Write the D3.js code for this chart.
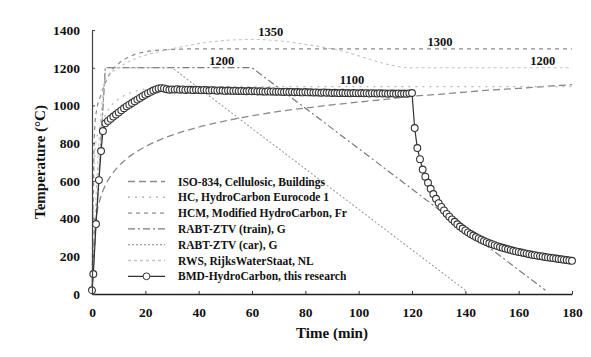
<!DOCTYPE html>
<html>
<head>
<meta charset="utf-8">
<script src="https://cdn.jsdelivr.net/npm/d3@7"></script>
<style>
  body { margin: 0; background: #fff; }
  svg text { font-family: "Liberation Serif", "Times New Roman", serif; font-weight: bold; fill: #111; }
</style>
</head>
<body>
<div id="chart"></div>
<script>
// fire curves (time in min, temperature in °C)
const isoTime = [0, 1, 2, 3, 5, 7, 10, 15, 20, 25, 30, 40, 50, 60, 70, 80, 90, 100, 110, 120, 130, 140, 150, 160, 170, 180];
const isoTemp = [20, 349, 445, 502, 576, 626, 678, 739, 781, 815, 842, 885, 918, 945, 968, 986, 1003, 1018, 1032, 1049, 1059, 1071, 1082, 1090, 1101, 1110];

const hcTime = [0, 1, 2, 3, 5, 7, 10, 15, 20, 25, 30, 40, 180];
const hcTemp = [20, 743, 843, 882, 948, 995, 1034, 1070, 1087, 1094, 1098, 1100, 1100];

const hcmTime = [0, 1, 2, 3, 5, 7, 10, 15, 20, 30, 40, 180];
const hcmTemp = [20, 877, 996, 1042, 1120, 1176, 1222, 1265, 1285, 1297, 1300, 1300];

const trainTime = [0, 5, 60, 170];
const trainTemp = [20, 1200, 1200, 20];

const carTime = [0, 5, 30, 140];
const carTemp = [20, 1200, 1200, 20];

const rwsTime = [0, 3, 5, 10, 30, 60, 90, 120, 180];
const rwsTemp = [20, 890, 1140, 1200, 1300, 1350, 1300, 1200, 1200];

const bmdTime = [0, 0.5, 1.5, 2.6, 3.4, 4.1, 5, 6, 7, 8, 9, 10, 11, 12, 13, 14, 15, 16, 17, 18, 19, 20,
  21, 22, 23, 24, 25, 26, 27, 28, 29, 30, 31, 32, 33, 34, 35, 36, 37, 38, 39, 40,
  41, 42, 43, 44, 45, 46, 47, 48, 49, 50, 51, 52, 53, 54, 55, 56, 57, 58, 59, 60,
  61, 62, 63, 64, 65, 66, 67, 68, 69, 70, 71, 72, 73, 74, 75, 76, 77, 78, 79, 80,
  81, 82, 83, 84, 85, 86, 87, 88, 89, 90, 91, 92, 93, 94, 95, 96, 97, 98, 99, 100,
  101, 102, 103, 104, 105, 106, 107, 108, 109, 110, 111, 112, 113, 114, 115, 116, 117, 118, 119, 120,
  121, 122, 123, 124, 125, 126, 127, 128, 129, 130, 131, 132, 133, 134, 135, 136, 137, 138, 139, 140,
  141, 142, 143, 144, 145, 146, 147, 148, 149, 150, 151, 152, 153, 154, 155, 156, 157, 158, 159, 160,
  161, 162, 163, 164, 165, 166, 167, 168, 169, 170, 171, 172, 173, 174, 175, 176, 177, 178, 179, 180];
const bmdTemp = [20, 106, 371, 604, 758, 864, 905, 918, 930, 941, 952, 963, 974, 985, 995, 1004, 1013, 1022, 1031, 1040, 1049, 1057,
  1065, 1072, 1079, 1085, 1090, 1092, 1090, 1086, 1083, 1085, 1084, 1086, 1083, 1085, 1082, 1084, 1083, 1081, 1083, 1082,
  1080, 1082, 1081, 1079, 1081, 1080, 1078, 1080, 1079, 1077, 1079, 1078, 1077, 1078, 1076, 1077, 1076, 1075, 1077, 1075,
  1076, 1074, 1075, 1074, 1073, 1075, 1073, 1074, 1072, 1073, 1072, 1071, 1073, 1071, 1072, 1070, 1071, 1070, 1069, 1071,
  1069, 1070, 1068, 1069, 1068, 1067, 1069, 1067, 1068, 1066, 1067, 1066, 1065, 1067, 1065, 1066, 1064, 1066, 1065, 1064,
  1066, 1064, 1065, 1063, 1065, 1064, 1063, 1065, 1063, 1064, 1062, 1064, 1063, 1062, 1064, 1062, 1063, 1062, 1064, 1066,
  880, 774, 715, 660, 622, 590, 558, 530, 505, 482, 462, 443, 425, 410, 396, 383, 370, 358, 347, 337,
  327, 318, 310, 302, 295, 288, 281, 275, 269, 264, 259, 254, 249, 245, 241, 237, 233, 229, 226, 223,
  220, 217, 214, 211, 208, 206, 203, 201, 199, 196, 194, 192, 190, 188, 186, 184, 182, 180, 178, 176];

const legendLabels = [
  "ISO-834, Cellulosic, Buildings",
  "HC, HydroCarbon Eurocode 1",
  "HCM, Modified HydroCarbon, Fr",
  "RABT-ZTV (train), G",
  "RABT-ZTV (car), G",
  "RWS, RijksWaterStaat, NL",
  "BMD-HydroCarbon, this research"
];

const annoValues = [1350, 1200, 1300, 1200, 1100];
const annoTimes = [67, 48.7, 130.5, 169, 97.5];

const xTicks = [0, 20, 40, 60, 80, 100, 120, 140, 160, 180];
const yTicks = [0, 200, 400, 600, 800, 1000, 1200, 1400];

const W = 591, H = 357;
const margin = { top: 30, right: 19, bottom: 63, left: 92 };
const iw = W - margin.left - margin.right;
const ih = H - margin.top - margin.bottom;
const FONT = "'Liberation Serif', 'Times New Roman', serif";

const svg = d3.select("#chart").append("svg").attr("width", W).attr("height", H)
  .attr("font-family", FONT).attr("font-weight", "bold");
const g = svg.append("g").attr("transform", `translate(${margin.left},${margin.top})`);

const x = d3.scaleLinear().domain([0, 180]).range([0, iw]);
const y = d3.scaleLinear().domain([0, 1400]).range([ih, 0]);

// styles per series, same order as the legend
const series = [
  { t: isoTime, v: isoTemp, color: "#8a8a8a", dash: "7,4", w: 1.3, curve: d3.curveMonotoneX },
  { t: hcTime, v: hcTemp, color: "#b8b8b8", dash: "2,5", w: 1.3, curve: d3.curveMonotoneX },
  { t: hcmTime, v: hcmTemp, color: "#8c8c8c", dash: "4,4", w: 1.2, curve: d3.curveMonotoneX },
  { t: trainTime, v: trainTemp, color: "#7a7a7a", dash: "7,3,2,3", w: 1.2, curve: d3.curveLinear },
  { t: carTime, v: carTemp, color: "#a0a0a0", dash: "2,2", w: 1.1, curve: d3.curveLinear },
  { t: rwsTime, v: rwsTemp, color: "#c4c4c4", dash: "3,3", w: 1.1, curve: d3.curveMonotoneX }
];

for (const s of series) {
  const line = d3.line().x((d, i) => x(s.t[i])).y((d) => y(d)).curve(s.curve);
  g.append("path").attr("d", line(s.v))
    .attr("fill", "none").attr("stroke", s.color).attr("stroke-width", s.w)
    .attr("stroke-dasharray", s.dash);
}

// BMD measured curve with circle markers
const bmd = bmdTime.map((t, i) => ({ t, v: bmdTemp[i] }));
g.append("path")
  .attr("d", d3.line().x((d) => x(d.t)).y((d) => y(d.v))(bmd))
  .attr("fill", "none").attr("stroke", "#333").attr("stroke-width", 1.2);
g.append("g").selectAll("circle").data(bmd).join("circle")
  .attr("cx", (d) => x(d.t)).attr("cy", (d) => y(d.v)).attr("r", 3.4)
  .attr("fill", "#fff").attr("stroke", "#333").attr("stroke-width", 1.1);

// axes
const gx = g.append("g").attr("transform", `translate(0,${ih})`)
  .call(d3.axisBottom(x).tickValues(xTicks).tickFormat(d3.format("d")).tickSize(-3).tickPadding(13).tickSizeOuter(0));
gx.attr("font-family", null);
gx.select(".domain").attr("stroke", "#222").attr("stroke-width", 1.7);
gx.selectAll(".tick line").attr("stroke", "#333");
gx.selectAll("text").style("font-size", "13.5px");

const gy = g.append("g")
  .call(d3.axisLeft(y).tickValues(yTicks).tickFormat(d3.format("d")).tickSize(-3).tickPadding(12).tickSizeOuter(0));
gy.attr("font-family", null);
gy.select(".domain").attr("stroke", "#444").attr("stroke-width", 1.2);
gy.selectAll(".tick line").attr("stroke", "#444");
gy.selectAll("text").style("font-size", "13.5px");

// axis titles
svg.append("text").attr("x", margin.left + iw / 2).attr("y", 338)
  .attr("text-anchor", "middle").style("font-size", "15px").text("Time (min)");
svg.append("text").attr("transform", `translate(45,${margin.top + ih / 2}) rotate(-90)`)
  .attr("text-anchor", "middle").style("font-size", "15px").text("Temperature (°C)");

// plateau annotations
g.append("g").selectAll("text").data(annoValues).join("text")
  .attr("x", (d, i) => x(annoTimes[i])).attr("y", (d) => y(d) - 3)
  .attr("text-anchor", "middle").style("font-size", "12.5px").text((d) => d);

// legend
const lg = svg.append("g").attr("transform", "translate(128,181.5)");
legendLabels.forEach((label, i) => {
  const row = lg.append("g").attr("transform", `translate(0,${i * 15.8})`);
  const s = series[i];
  if (s) {
    row.append("line").attr("x1", 0).attr("x2", 37).attr("y1", 0).attr("y2", 0)
      .attr("stroke", s.color).attr("stroke-width", s.w + 0.2).attr("stroke-dasharray", s.dash);
  } else {
    row.append("line").attr("x1", 0).attr("x2", 37).attr("y1", 0).attr("y2", 0)
      .attr("stroke", "#333").attr("stroke-width", 1.2);
    row.append("circle").attr("cx", 18.5).attr("cy", 0).attr("r", 3.4)
      .attr("fill", "#fff").attr("stroke", "#333");
  }
  row.append("text").attr("x", 50).attr("y", 4).style("font-size", "11.5px").text(label);
});
</script>
</body>
</html>
